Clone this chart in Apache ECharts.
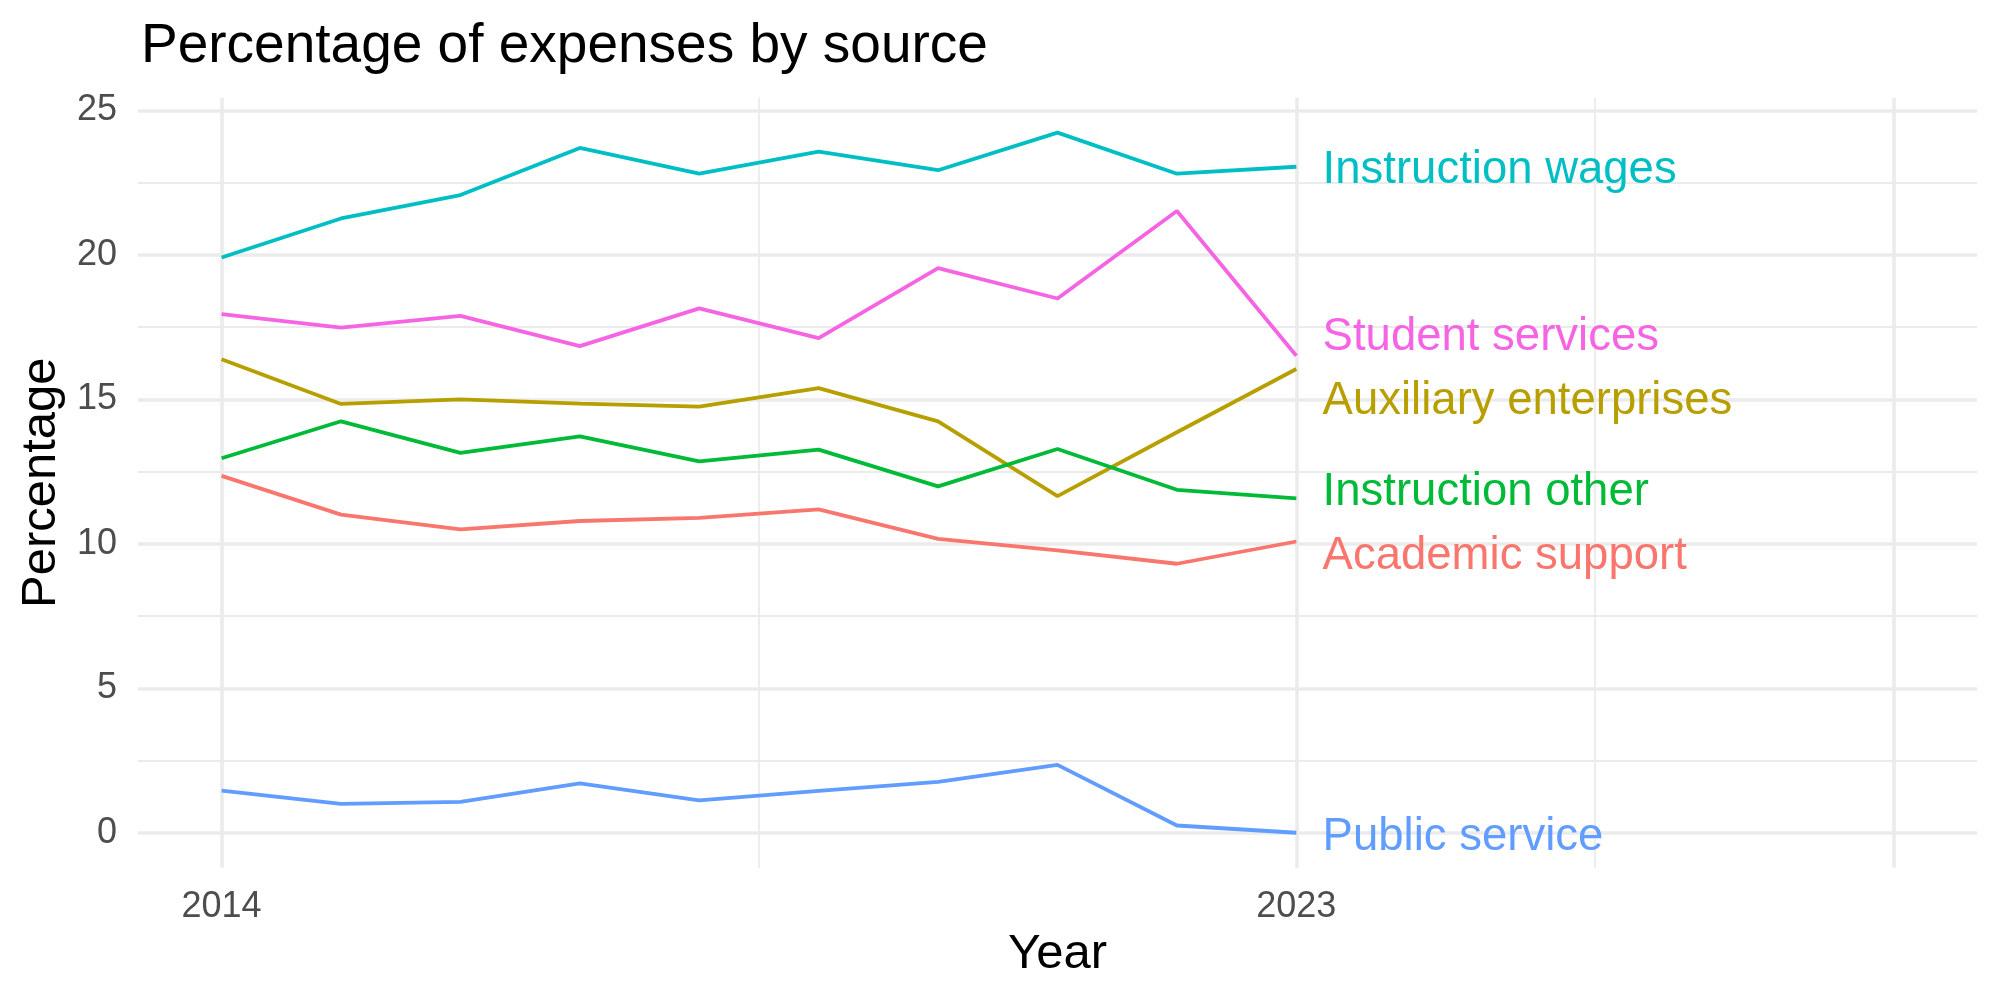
<!DOCTYPE html>
<html>
<head>
<meta charset="utf-8">
<title>Percentage of expenses by source</title>
<script src="https://cdn.jsdelivr.net/npm/echarts@6/dist/echarts.min.js"></script>
<style>
  html, body { margin: 0; padding: 0; background: #fff; }
  #chart { width: 2000px; height: 1000px; }
</style>
</head>
<body>
<div id="chart"></div>
<script>
const years = [2014, 2015, 2016, 2017, 2018, 2019, 2020, 2021, 2022, 2023];

const academicSupport = [12.35, 11.01, 10.5, 10.79, 10.9, 11.19, 10.17, 9.77, 9.31, 10.08];
const auxiliaryEnterprises = [16.39, 14.84, 15.0, 14.85, 14.75, 15.39, 14.24, 11.65, 13.86, 16.05];
const instructionOther = [12.96, 14.24, 13.15, 13.72, 12.85, 13.26, 11.99, 13.28, 11.87, 11.57];
const instructionWages = [19.91, 21.26, 22.07, 23.7, 22.81, 23.57, 22.93, 24.23, 22.81, 23.05];
const publicService = [1.46, 1.0, 1.07, 1.71, 1.12, 1.45, 1.76, 2.35, 0.25, 0.0];
const studentServices = [17.95, 17.48, 17.89, 16.84, 18.15, 17.12, 19.54, 18.49, 21.52, 16.51];

const seriesNames = [
  "Academic support",
  "Auxiliary enterprises",
  "Instruction other",
  "Instruction wages",
  "Public service",
  "Student services",
];
const seriesValues = [
  academicSupport,
  auxiliaryEnterprises,
  instructionOther,
  instructionWages,
  publicService,
  studentServices,
];
// ggplot hue palette
const seriesColors = ["#F8766D", "#B79F00", "#00BA38", "#00BFC4", "#619CFF", "#F564E3"];

// repelled label anchors (data space), same order as seriesNames
const labelX = 2023.22;
const labelY = [9.7, 15.08, 11.9, 23.06, -0.04, 17.27];

// axis ticks and grid breaks
const xTickLabels = [2014, 2023];
const xMajorGrid = [2014, 2023, 2028];
const xMinorGrid = [2018.5, 2025.5];
const yTickLabels = [0, 5, 10, 15, 20, 25];
const yMinorGrid = [2.5, 7.5, 12.5, 17.5, 22.5];

const FONT = "Liberation Sans";
const GRID_COLOR = "#EBEBEB";

const chart = echarts.init(document.getElementById("chart"), null, { renderer: "canvas" });

function gridLine(axis, value, width) {
  return { [axis]: value, lineStyle: { color: GRID_COLOR, width: width, type: "solid", opacity: 1 } };
}

// panel grid drawn as mark lines on the bottom layer
const gridSeries = {
  name: "grid",
  type: "line",
  data: [],
  silent: true,
  zlevel: 0,
  z: 1,
  markLine: {
    silent: true,
    symbol: "none",
    animation: false,
    label: { show: false },
    emphasis: { disabled: true },
    data: [
      ...yMinorGrid.map((v) => gridLine("yAxis", v, 1.8)),
      ...xMinorGrid.map((v) => gridLine("xAxis", v, 1.8)),
      ...yTickLabels.map((v) => gridLine("yAxis", v, 3.6)),
      ...xMajorGrid.map((v) => gridLine("xAxis", v, 3.6)),
    ],
  },
};

const lineSeries = seriesNames.map((name, i) => ({
  name: name,
  type: "line",
  zlevel: 1,
  z: 3,
  showSymbol: false,
  symbol: "none",
  lineStyle: { color: seriesColors[i], width: 3.8, opacity: 1 },
  emphasis: { disabled: true },
  data: years.map((y, j) => [y, seriesValues[i][j]]),
}));

const labelSeries = {
  name: "labels",
  type: "scatter",
  zlevel: 1,
  z: 4,
  silent: true,
  symbolSize: 0,
  itemStyle: { opacity: 1 },
  emphasis: { disabled: true },
  data: seriesNames.map((name, i) => ({
    value: [labelX, labelY[i]],
    name: name,
    label: {
      show: true,
      position: "right",
      distance: 0,
      offset: [0, 4],
      formatter: name,
      color: seriesColors[i],
      opacity: 1,
      textBorderWidth: 0,
      textBorderColor: "transparent",
      fontFamily: FONT,
      fontSize: 45.5,
      verticalAlign: "middle",
    },
  })),
};

const option = {
  backgroundColor: "#ffffff",
  animation: false,
  title: {
    text: "Percentage of expenses by source",
    left: 136,
    top: 14,
    textStyle: { fontFamily: FONT, fontSize: 55, fontWeight: "normal", color: "#000000" },
  },
  grid: { left: 138, right: 23, top: 97.7, bottom: 132.3, containLabel: false },
  xAxis: {
    type: "value",
    min: 2013.3,
    max: 2028.7,
    name: "Year",
    nameLocation: "middle",
    nameGap: 60,
    nameTextStyle: { fontFamily: FONT, fontSize: 49, color: "#000000" },
    axisLine: { show: false },
    axisTick: { show: false },
    splitLine: { show: false },
    axisLabel: {
      customValues: xTickLabels,
      formatter: (v) => String(v),
      margin: 21,
      fontFamily: FONT,
      fontSize: 36,
      color: "#4D4D4D",
    },
  },
  yAxis: {
    type: "value",
    min: -1.21,
    max: 25.44,
    name: "Percentage",
    nameLocation: "middle",
    nameGap: 62,
    nameRotate: 90,
    nameTextStyle: { fontFamily: FONT, fontSize: 49, color: "#000000" },
    axisLine: { show: false },
    axisTick: { show: false },
    splitLine: { show: false },
    axisLabel: {
      customValues: yTickLabels,
      formatter: (v) => String(v),
      margin: 21,
      padding: [5, 0, 0, 0],
      fontFamily: FONT,
      fontSize: 36,
      color: "#4D4D4D",
    },
  },
  series: [gridSeries, ...lineSeries, labelSeries],
};

chart.setOption(option);
</script>
</body>
</html>
